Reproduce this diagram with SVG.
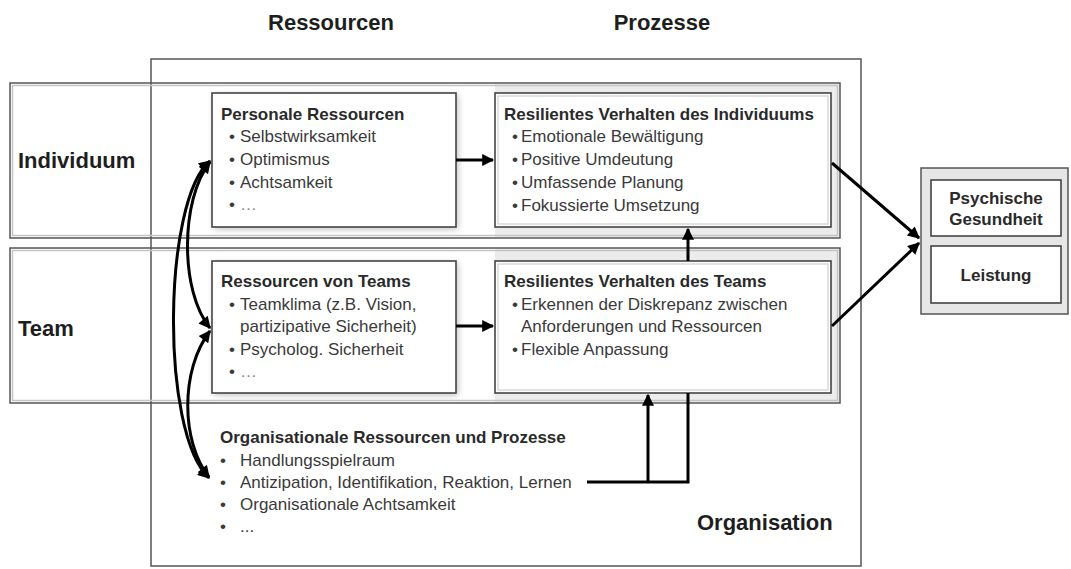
<svg xmlns="http://www.w3.org/2000/svg" width="1071" height="569" viewBox="0 0 1071 569">
<defs>
<style>
.org{fill:#fff;stroke:#555;stroke-width:1.5}
.band{fill:none;stroke:#555;stroke-width:1.5}
.bandin{fill:none;stroke:#c4c4c4;stroke-width:1.5}
.frame{fill:#ececec;stroke:none}
.box{fill:#fff;stroke:#444;stroke-width:1.6}
.boxin{fill:none;stroke:#cfcfcf;stroke-width:1.2}
.shadow{fill:#bdbdbd;filter:url(#blur)}
.hdr{font-family:"Liberation Sans",Arial,sans-serif;font-weight:bold;font-size:22px;fill:#1e1e1e}
.title{font-family:"Liberation Sans",Arial,sans-serif;font-weight:bold;font-size:17px;fill:#2a2a2a}
.item{font-family:"Liberation Sans",Arial,sans-serif;font-size:17px;fill:#3a3a3a}
.dots{fill:#8a8a8a}
.conn{fill:none;stroke:#000;stroke-width:3}
.rgrp{fill:#e6e6e6;stroke:#555;stroke-width:1.5}
</style>
<filter id="blur" x="-10%" y="-10%" width="120%" height="120%"><feGaussianBlur stdDeviation="3"/></filter>
<marker id="ah" viewBox="0 0 10 10" refX="9" refY="5" markerWidth="15" markerHeight="12" markerUnits="userSpaceOnUse" orient="auto-start-reverse">
<path d="M0,0 L10,5 L0,10 z" fill="#000"/>
</marker>
</defs>
<rect width="1071" height="569" fill="#fff"/>

<g id="headers">
<text class="hdr" x="331" y="30" text-anchor="middle">Ressourcen</text>
<text class="hdr" x="662" y="30" text-anchor="middle">Prozesse</text>
</g>

<g id="organisation">
<rect class="org" x="151" y="59" width="710" height="507"/>
<text class="hdr" x="697" y="530">Organisation</text>
<text class="title" x="220" y="443">Organisationale Ressourcen und Prozesse</text>
<text class="item" y="466"><tspan x="220">•</tspan><tspan x="240">Handlungsspielraum</tspan></text>
<text class="item" y="488"><tspan x="220">•</tspan><tspan x="240">Antizipation, Identifikation, Reaktion, Lernen</tspan></text>
<text class="item" y="510"><tspan x="220">•</tspan><tspan x="240">Organisationale Achtsamkeit</tspan></text>
<text class="item" y="532"><tspan x="220">•</tspan><tspan x="240">...</tspan></text>
</g>

<g id="row-individuum">
<rect class="frame" x="495" y="84" width="344" height="153"/>
<rect class="band" x="10" y="83" width="830" height="155"/>
<rect class="bandin" x="12.5" y="85.5" width="825" height="150"/>
<text class="hdr" x="18" y="168">Individuum</text>
</g>

<g id="row-team">
<rect class="frame" x="495" y="249" width="344" height="153"/>
<rect class="band" x="10" y="248" width="830" height="155"/>
<rect class="bandin" x="12.5" y="250.5" width="825" height="150"/>
<text class="hdr" x="18" y="336">Team</text>
</g>

<g id="personale-ressourcen">
<rect class="shadow" x="214" y="95" width="244" height="134"/>
<rect class="box" x="212" y="93" width="244" height="134"/>
<text class="title" x="221" y="120">Personale Ressourcen</text>
<text class="item" y="142"><tspan x="229">•</tspan><tspan x="240">Selbstwirksamkeit</tspan></text>
<text class="item" y="165"><tspan x="229">•</tspan><tspan x="240">Optimismus</tspan></text>
<text class="item" y="188"><tspan x="229">•</tspan><tspan x="240">Achtsamkeit</tspan></text>
<text class="item" y="210"><tspan x="229">•</tspan><tspan x="240" class="dots">…</tspan></text>
</g>

<g id="resilientes-individuum">
<rect class="box" x="495" y="93" width="336" height="134"/>
<rect class="boxin" x="498" y="96" width="330" height="128"/>
<text class="title" x="504" y="120">Resilientes Verhalten des Individuums</text>
<text class="item" y="142"><tspan x="512">•</tspan><tspan x="521">Emotionale Bewältigung</tspan></text>
<text class="item" y="165"><tspan x="512">•</tspan><tspan x="521">Positive Umdeutung</tspan></text>
<text class="item" y="188"><tspan x="512">•</tspan><tspan x="521">Umfassende Planung</tspan></text>
<text class="item" y="211"><tspan x="512">•</tspan><tspan x="521">Fokussierte Umsetzung</tspan></text>
</g>

<g id="ressourcen-teams">
<rect class="shadow" x="214" y="263" width="244" height="132"/>
<rect class="box" x="212" y="261" width="244" height="132"/>
<text class="title" x="221" y="287">Ressourcen von Teams</text>
<text class="item" y="310"><tspan x="229">•</tspan><tspan x="240">Teamklima (z.B. Vision,</tspan></text>
<text class="item" y="332"><tspan x="240">partizipative Sicherheit)</tspan></text>
<text class="item" y="355"><tspan x="229">•</tspan><tspan x="240">Psycholog. Sicherheit</tspan></text>
<text class="item" y="377"><tspan x="229">•</tspan><tspan x="240" class="dots">…</tspan></text>
</g>

<g id="resilientes-team">
<rect class="box" x="495" y="261" width="336" height="132"/>
<rect class="boxin" x="498" y="264" width="330" height="126"/>
<text class="title" x="504" y="287">Resilientes Verhalten des Teams</text>
<text class="item" y="310"><tspan x="512">•</tspan><tspan x="521">Erkennen der Diskrepanz zwischen</tspan></text>
<text class="item" y="332"><tspan x="521">Anforderungen und Ressourcen</tspan></text>
<text class="item" y="355"><tspan x="512">•</tspan><tspan x="521">Flexible Anpassung</tspan></text>
</g>

<g id="outcomes">
<rect class="rgrp" x="921" y="168" width="147" height="146"/>
<rect class="box" x="931" y="180" width="130" height="56"/>
<text class="title" x="996" y="204" text-anchor="middle">Psychische</text>
<text class="title" x="996" y="225" text-anchor="middle">Gesundheit</text>
<rect class="box" x="931" y="246" width="130" height="57"/>
<text class="title" x="996" y="281" text-anchor="middle">Leistung</text>
</g>

<g id="connectors">
<path class="conn" d="M456,160 H493" marker-end="url(#ah)"/>
<path class="conn" d="M456,326 H493" marker-end="url(#ah)"/>
<path class="conn" d="M688,261 V229" marker-end="url(#ah)"/>
<path class="conn" d="M587,482 H688 V393"/>
<path class="conn" d="M648,482 V395" marker-end="url(#ah)"/>
<path class="conn" d="M832,163 L919,238" marker-end="url(#ah)"/>
<path class="conn" d="M832,326 L919,243" marker-end="url(#ah)"/>
<path class="conn" d="M210,161 C163,200 160,432 209,478" marker-start="url(#ah)" marker-end="url(#ah)"/>
<path class="conn" d="M210,162 C180,200 180,292 210,328" marker-start="url(#ah)" marker-end="url(#ah)"/>
<path class="conn" d="M210,331 C180,370 181,442 209,477" marker-start="url(#ah)" marker-end="url(#ah)"/>
</g>
</svg>
